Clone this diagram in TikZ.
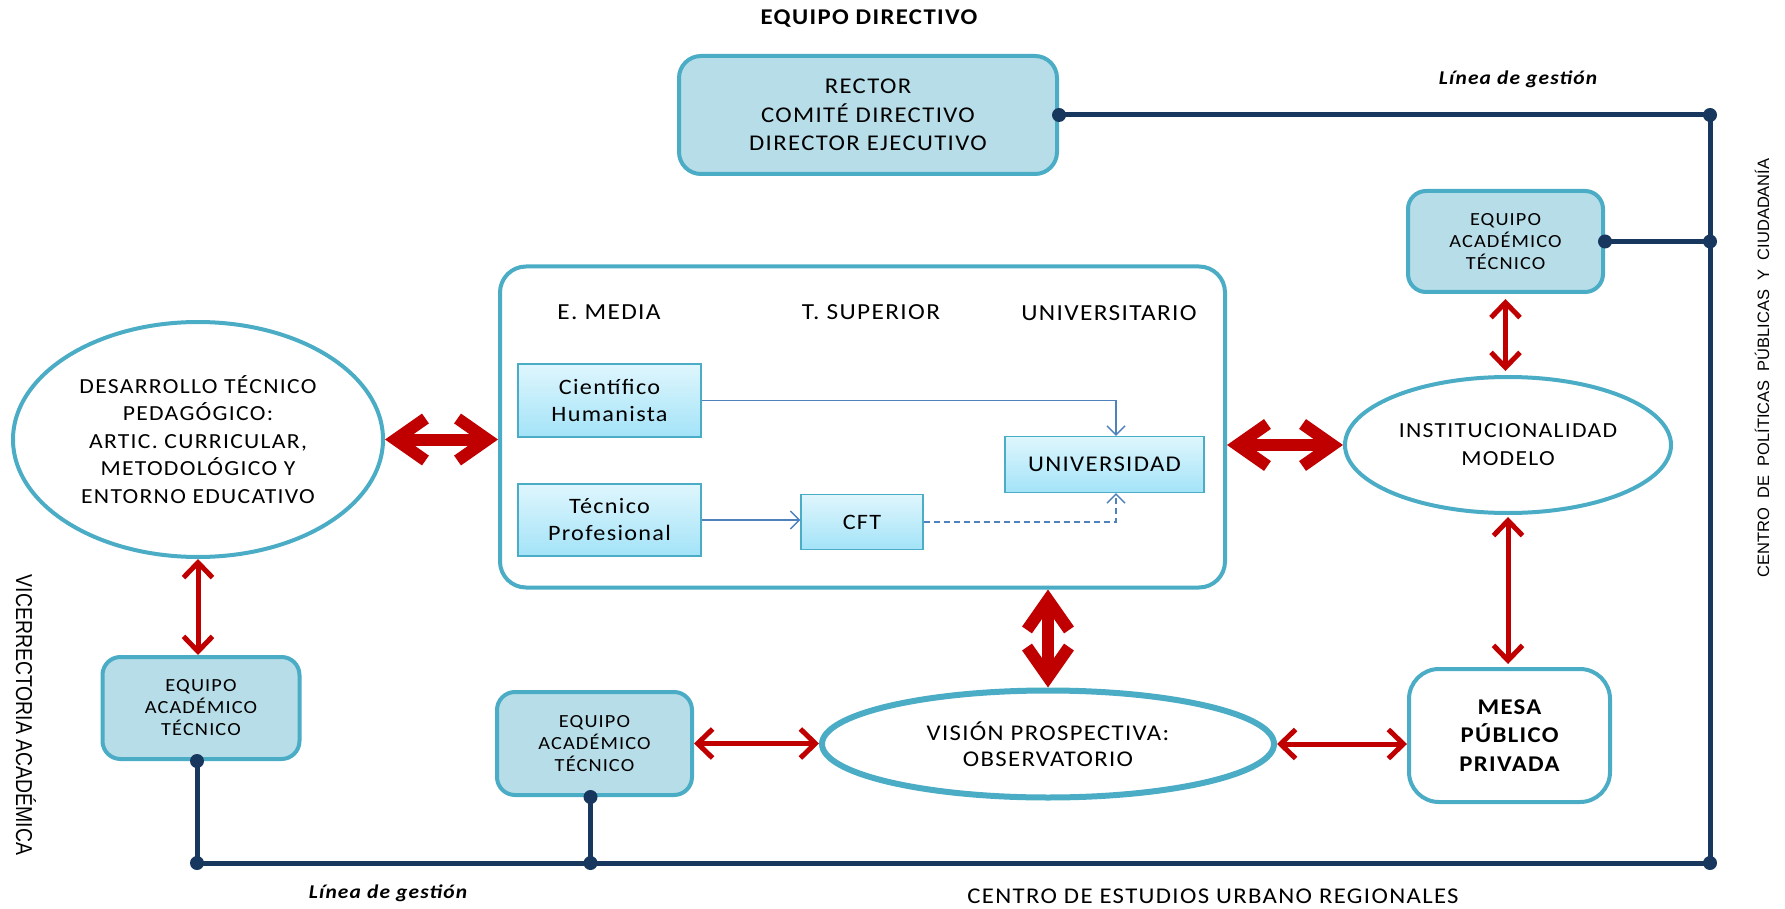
\documentclass[tikz,border=0pt]{standalone}
\usepackage{fontspec}
\setmainfont{Carlito}[FakeStretch=1.1, LetterSpace=6]
\newfontfamily\sansf{Liberation Sans}
\usetikzlibrary{arrows.meta,shapes.geometric,calc}
\definecolor{aqua}{HTML}{4BACC6}
\definecolor{aquafill}{HTML}{B7DDE8}
\definecolor{navy}{HTML}{17375E}
\definecolor{arrred}{HTML}{C00000}
\definecolor{innerblue}{HTML}{4F81BD}
\definecolor{gtop}{HTML}{DFF6FD}
\definecolor{gbot}{HTML}{A3E3F8}
\tikzset{
  teambox/.style={draw=aqua, line width=4pt, fill=aquafill, rounded corners=18pt, align=center, inner sep=0pt, text=black, font=\fontsize{18.5}{22}\selectfont},
  mainbox/.style={draw=aqua, line width=4pt, fill=white, rounded corners=26pt, inner sep=0pt},
  oval/.style={ellipse, draw=aqua, line width=4pt, fill=white, inner sep=0pt, align=center, font=\fontsize{21.5}{28}\selectfont},
  subbox/.style={draw=aqua, line width=1.2pt, top color=gtop, bottom color=gbot, align=center, inner sep=0pt, font=\fontsize{22}{27}\selectfont},
  lbl/.style={inner sep=0pt, font=\fontsize{22.5}{27}\selectfont},
  redbig/.style={draw=arrred, line width=12pt, {Straight Barb[length=30pt,width=42pt]}-{Straight Barb[length=30pt,width=42pt]}},
  redsmall/.style={draw=arrred, line width=5pt, {Straight Barb[length=15pt,width=29pt]}-{Straight Barb[length=15pt,width=29pt]}},
  navyline/.style={draw=navy, line width=5pt},
  flow/.style={draw=innerblue, line width=1.4pt, -{Straight Barb[length=9pt,width=18pt]}}
}
\begin{document}
\begin{tikzpicture}[x=1pt,y=-1pt]
\useasboundingbox (0,0) rectangle (1785,909);

% titles
\node[lbl, font=\fontsize{22.5}{27}\bfseries] (tdir) at (869,19) {EQUIPO DIRECTIVO};
\node[lbl, font=\fontsize{19.5}{24}\bfseries\itshape] (tlg1) at (1518,79) {Línea de gestión};
\node[lbl, font=\fontsize{19.5}{24}\bfseries\itshape] (tlg2) at (388,893) {Línea de gestión};
\node[lbl] (tceur) at (1213,896) {CENTRO DE ESTUDIOS URBANO REGIONALES};
\node[inner sep=0pt, rotate=-90, xscale=0.845, font=\sansf\fontsize{23}{27}\selectfont] (tvice) at (26,715) {VICERRECTORIA ACADÉMICA};
\node[inner sep=0pt, rotate=90, font=\sansf\fontsize{16.5}{20}\selectfont] (tcpp) at (1762,368) {CENTRO\ \ DE\ \ POLÍTICAS\ \ PÚBLICAS\ \ Y\ \ CIUDADANÍA};

% boxes
\node[teambox, rounded corners=22pt, minimum width=378pt, minimum height=118pt, font=\fontsize{22.5}{28.5}\selectfont] (rector) at (868,115) {RECTOR\\COMITÉ DIRECTIVO\\DIRECTOR EJECUTIVO};
\node[teambox, minimum width=195pt, minimum height=101pt] (req) at (1505.5,241.5) {EQUIPO\\ACADÉMICO\\TÉCNICO};
\node[teambox, minimum width=197pt, minimum height=102pt] (leq) at (201,708) {EQUIPO\\ACADÉMICO\\TÉCNICO};
\node[teambox, minimum width=195pt, minimum height=103pt] (beq) at (594.5,743.5) {EQUIPO\\ACADÉMICO\\TÉCNICO};
\node[teambox, fill=white, rounded corners=30pt, minimum width=201pt, minimum height=133pt, font=\fontsize{22.5}{28.5}\bfseries] (mesa) at (1509.5,735.5) {MESA\\PÚBLICO\\PRIVADA};

\node[mainbox, minimum width=725pt, minimum height=321pt] (main) at (862.5,427) {};
\node[lbl, font=\fontsize{23}{27}\selectfont] (emedia) at (609,312) {E. MEDIA};
\node[lbl, font=\fontsize{23}{27}\selectfont] (tsup) at (871,312) {T. SUPERIOR};
\node[lbl, font=\fontsize{23}{27}\selectfont] (univt) at (1109,313) {UNIVERSITARIO};

\node[subbox, minimum width=183pt, minimum height=73pt] (cient) at (609.5,400.5) {Científico\\Humanista};
\node[subbox, minimum width=183pt, minimum height=72pt] (tec) at (609.5,520) {Técnico\\Profesional};
\node[subbox, minimum width=122pt, minimum height=55pt] (cft) at (862,522) {CFT};
\node[subbox, minimum width=199pt, minimum height=56pt, font=\fontsize{22.5}{27}\selectfont] (univ) at (1104.5,464.5) {UNIVERSIDAD};

\node[oval, minimum width=370pt, minimum height=235pt, font=\fontsize{21.5}{27.5}\selectfont] (des) at (198,439.5) {DESARROLLO TÉCNICO\\PEDAGÓGICO:\\ARTIC. CURRICULAR,\\METODOLÓGICO Y\\ENTORNO EDUCATIVO};
\node[oval, minimum width=326pt, minimum height=136pt] (inst) at (1508,445) {INSTITUCIONALIDAD\\MODELO};
\node[oval, line width=6pt, minimum width=452pt, minimum height=107pt, font=\fontsize{22.5}{26}\selectfont] (vis) at (1048,744) {VISIÓN PROSPECTIVA:\\OBSERVATORIO};

% inner flows
\coordinate (ux) at (1116,0);
\draw[flow] (cient.east) -| (ux |- univ.north);
\draw[flow] (tec.east) -- (tec.east -| cft.west);
\draw[flow, dashed, dash pattern=on 6pt off 4pt] (cft.east) -| (ux |- univ.south);

% red arrows
\draw[redbig] (des.east) -- (des.east -| main.west);
\draw[redbig] (inst.west -| main.east) -- (inst.west);
\draw[redbig] (vis.north |- main.south) -- (vis.north);
\draw[redsmall] (des.south) -- (des.south |- leq.north);
\draw[redsmall] (beq.east) -- (beq.east -| vis.west);
\draw[redsmall] (vis.east) -- (vis.east -| mesa.west);
\draw[redsmall, shorten <=5pt, shorten >=4pt] (req.south) -- (req.south |- inst.north);
\draw[redsmall, shorten <=2pt, shorten >=3pt] (inst.south) -- (inst.south |- mesa.north);

% management lines
\coordinate (vx) at (1710,0);
\coordinate (ls) at ($(leq.south)+(-4,0)$);
\coordinate (bs) at ($(beq.south)+(-4,0)$);
\coordinate (j1) at (rector.east -| vx);
\coordinate (j2) at (req.east -| vx);
\coordinate (j3) at (1710,863);
\coordinate (j4) at (ls |- j3);
\coordinate (j5) at (bs |- j3);
\draw[navyline] (rector.east) -- (j1) -- (j3) -- (j4) -- (ls);
\draw[navyline] (req.east) -- (j2);
\draw[navyline] (bs) -- (j5);
\foreach \p in {rector.east, req.east, ls, bs, j1, j2, j3, j4, j5}
  \fill[navy] (\p) circle (7pt);
\end{tikzpicture}
\end{document}
